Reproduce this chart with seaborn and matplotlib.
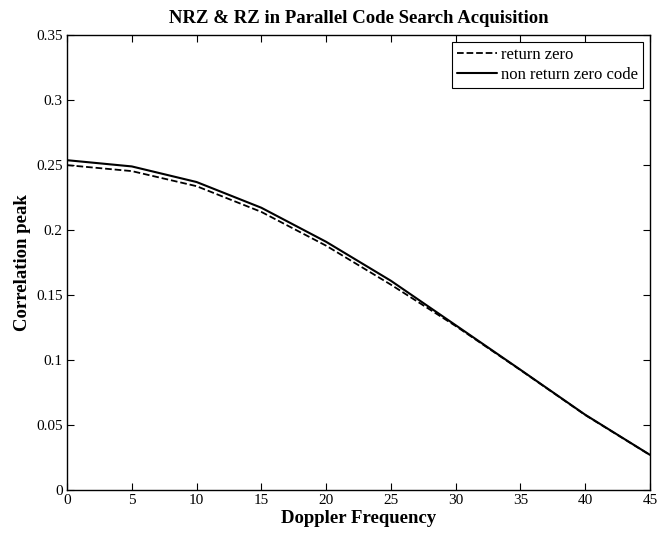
import matplotlib
matplotlib.use("Agg")
import matplotlib.pyplot as plt
import seaborn as sns
import pandas as pd

doppler = [0, 5, 10, 15, 20, 25, 30, 35, 40, 45]
rz = [0.2500, 0.2454, 0.2338, 0.2140, 0.1880, 0.1580, 0.1262, 0.0923, 0.0577, 0.0269]
nrz = [0.2538, 0.2490, 0.2370, 0.2172, 0.1910, 0.1610, 0.1268, 0.0925, 0.0579, 0.0270]

sns.set_style("ticks")
plt.rcParams['font.family'] = ['Liberation Serif', 'DejaVu Serif']
plt.rcParams['text.color'] = 'black'
plt.rcParams['axes.labelcolor'] = 'black'
plt.rcParams['xtick.color'] = 'black'
plt.rcParams['ytick.color'] = 'black'

fig = plt.figure(figsize=(6.66, 5.33), dpi=100)
ax = fig.add_axes([0.1006, 0.0807, 0.8754, 0.8533])

df = pd.DataFrame({"x": doppler, "rz": rz, "nrz": nrz})
sns.lineplot(data=df, x="x", y="rz", ax=ax, color="black", lw=1.3,
             linestyle="--", label="return zero")
sns.lineplot(data=df, x="x", y="nrz", ax=ax, color="black", lw=1.5,
             label="non return zero code")

ax.set_xlim(0, 45)
ax.set_ylim(0, 0.35)
ax.set_xticks(range(0, 46, 5))
ax.set_yticks([0, 0.05, 0.1, 0.15, 0.2, 0.25, 0.3, 0.35])
ax.set_yticklabels(["0", "0.05", "0.1", "0.15", "0.2", "0.25", "0.3", "0.35"])
ax.tick_params(direction="in", top=True, right=True, labelsize=11, length=5, width=0.8, pad=3)
for s in ax.spines.values():
    s.set_visible(True)
    s.set_linewidth(1.0)
    s.set_color("black")

ax.set_xlabel("Doppler Frequency", fontsize=13.5, fontweight="bold", labelpad=2)
ax.set_ylabel("Correlation peak", fontsize=13.5, fontweight="bold", labelpad=4)
ax.set_title("NRZ & RZ in Parallel Code Search Acquisition", fontsize=13.5, fontweight="bold", pad=9)

leg = ax.legend(loc="upper right", fontsize=12, frameon=True, fancybox=False,
                edgecolor="black", framealpha=1, borderaxespad=0.42,
                handlelength=2.4, handletextpad=0.25, labelspacing=0.2, borderpad=0.3)
leg.get_frame().set_linewidth(0.8)

fig.savefig("out.png", dpi=100)
